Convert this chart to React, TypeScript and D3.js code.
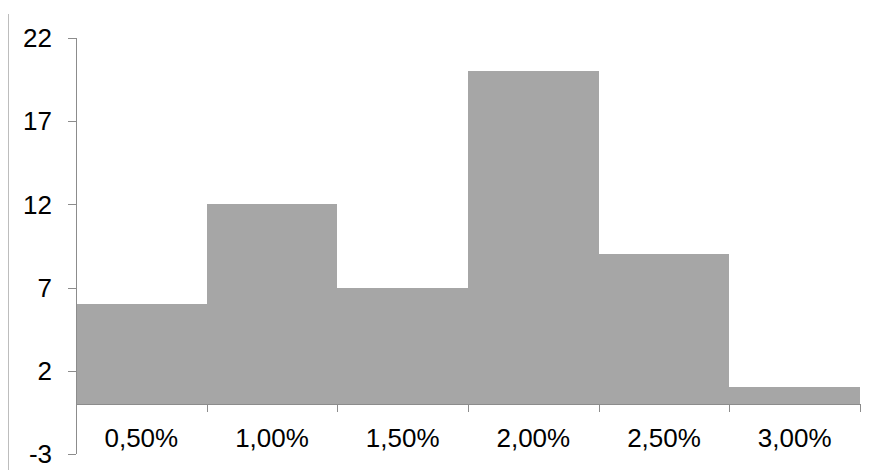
import React from "react";
import * as d3 from "d3";

const categories = ["0,50%", "1,00%", "1,50%", "2,00%", "2,50%", "3,00%"];
const values = [6, 12, 7, 20, 9, 1];
const yTicks = [-3, 2, 7, 12, 17, 22];

export default function App() {
  const W = 872, H = 474;
  const left = 76, right = 860, top = 38, bottom = 454;
  const x = d3.scaleBand<string>().domain(categories).range([left, right]).paddingInner(0).paddingOuter(0);
  const y = d3.scaleLinear().domain([-3, 22]).range([bottom, top]);
  const y0 = Math.round(y(0));
  const font = "'Liberation Sans', Arial, sans-serif";
  const axisColor = "#8c8c8c";
  const boundaries = categories.map((c) => x(c)!).concat([right]);
  return (
    <svg width={W} height={H} style={{ position: "absolute", left: 0, top: 0 }}>
      <rect x={0} y={0} width={W} height={H} fill="#fff" />
      <line x1={8.5} x2={8.5} y1={14} y2={470} stroke="#bdbdbd" strokeWidth={1} />
      {values.map((v, i) => {
        const x1 = Math.round(x(categories[i])!);
        const x2 = Math.round(x(categories[i])! + x.bandwidth());
        const yt = Math.round(y(v));
        return <rect key={i} x={x1} y={yt} width={x2 - x1} height={y0 - yt} fill="#a6a6a6" shapeRendering="crispEdges" />;
      })}
      <line x1={left + 0.5} x2={left + 0.5} y1={top} y2={bottom} stroke={axisColor} strokeWidth={1} />
      {yTicks.map((t) => (
        <g key={t}>
          <line x1={left - 8} x2={left} y1={Math.round(y(t)) + 0.5} y2={Math.round(y(t)) + 0.5} stroke={axisColor} />
          <text x={52} y={y(t)} dy="0.35em" textAnchor="end" fontFamily={font} fontSize={26} fill="#000">{t}</text>
        </g>
      ))}
      <line x1={left} x2={right} y1={y0 + 0.5} y2={y0 + 0.5} stroke={axisColor} />
      {boundaries.map((b, i) => (
        <line key={i} x1={Math.round(b) + 0.5} x2={Math.round(b) + 0.5} y1={y0} y2={y0 + 8} stroke={axisColor} />
      ))}
      {categories.map((c) => (
        <text key={c} x={x(c)! + x.bandwidth() / 2} y={447} textAnchor="middle" fontFamily={font} fontSize={26} fill="#000">{c}</text>
      ))}
    </svg>
  );
}
